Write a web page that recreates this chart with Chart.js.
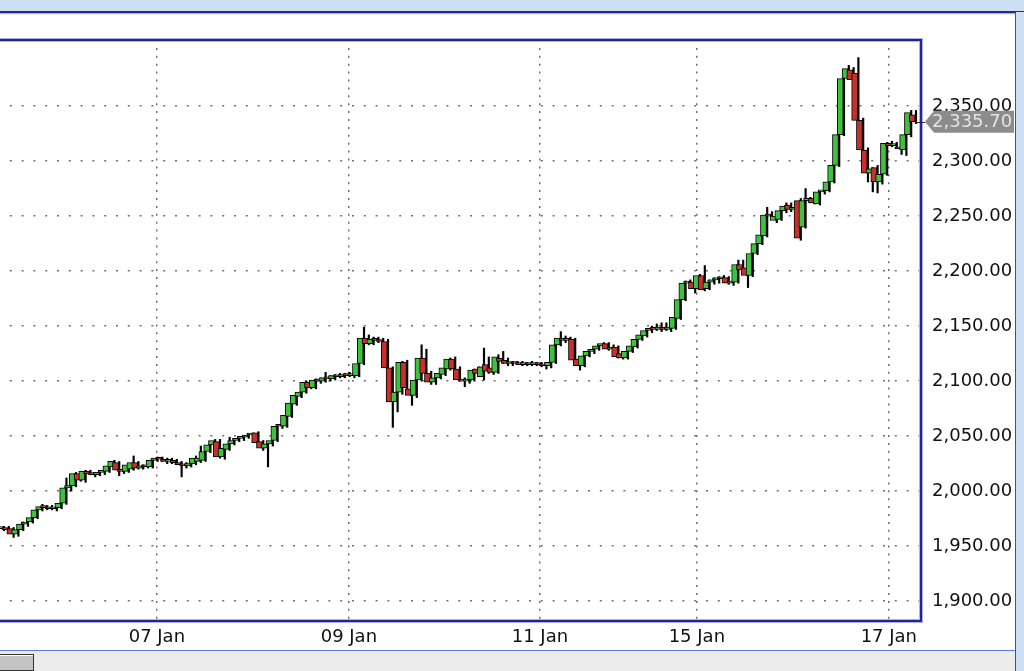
<!DOCTYPE html>
<html>
<head>
<meta charset="utf-8">
<title>Price chart</title>
<script src="https://cdn.jsdelivr.net/npm/chart.js@4.4.0/dist/chart.umd.min.js"></script>
<style>
  html, body { margin: 0; padding: 0; }
  body { width: 1024px; height: 671px; overflow: hidden; position: relative; background: #fff; }
  #topband { position: absolute; left: 0; top: 0; width: 1024px; height: 11px; background: #cddff5; border-bottom: 2px solid #27278f; box-shadow: 0 1px 1px #9fb0ea; }
  #rightstrip { position: absolute; left: 1015px; top: 12px; width: 9px; height: 659px; background: #cddff5; border-left: 1px solid #3a4db0; }
  #bottom { position: absolute; left: 0; top: 650px; width: 1015px; height: 21px; background: #ececec; border-top: 1px solid #5b7fd4; }
  #btn { position: absolute; left: -2px; top: 654px; width: 34px; height: 15px; background: #c4c4c4; border: 1px solid #333; box-shadow: inset 1px 1px 0 #fff; }
  #chart { position: absolute; left: -4px; top: 0; }
</style>
</head>
<body>
<div id="topband"></div>
<div id="rightstrip"></div>
<div id="bottom"></div>
<div id="btn"></div>
<canvas id="chart" width="1019" height="650"></canvas>
<script>
// hourly candles
const opens = [1966,1967,1966,1961,1965,1970,1972,1976,1983,1986,
  1985,1984,1985,1989,2003,2005,2016,2010,2018,2016,
  2015,2017,2018,2022,2026,2019,2018,2020,2026,2021,
  2024,2022,2028,2030,2029,2027,2028,2026,2024,2023,
  2025,2027,2028,2036,2042,2045,2031,2038,2043,2046,
  2048,2049,2051,2053,2045,2039,2043,2046,2059,2059,
  2068,2079,2086,2090,2099,2094,2101,2100,2103,2102,
  2105,2104,2106,2105,2105,2116,2139,2134,2138,2137,
  2136,2112,2081,2090,2117,2093,2087,2101,2121,2107,
  2099,2103,2106,2111,2120,2111,2101,2100,2101,2111,
  2104,2115,2112,2108,2121,2119,2116,2117,2116,2115,
  2116,2115,2116,2115,2114,2117,2133,2139,2137,2138,
  2120,2114,2123,2127,2129,2132,2134,2129,2131,2125,
  2121,2127,2131,2138,2141,2146,2148,2147,2149,2147,
  2148,2157,2174,2189,2190,2184,2196,2184,2190,2192,
  2193,2194,2189,2190,2206,2203,2196,2216,2225,2232,
  2251,2246,2247,2255,2260,2256,2264,2240,2264,2266,
  2261,2272,2273,2281,2296,2324,2375,2383,2380,2337,
  2310,2289,2294,2281,2288,2316,2314,2313,2310,2324,
  2342];
const highs = [1968,1968,1967,1966,1972,1974,1978,1985,1988,1987,
  1987,1986,1990,2012,2008,2017,2018,2019,2019,2017,
  2018,2019,2024,2028,2027,2021,2025,2032,2027,2024,
  2025,2029,2031,2031,2030,2030,2029,2027,2026,2026,
  2032,2041,2037,2043,2047,2047,2040,2049,2047,2049,
  2050,2052,2053,2054,2046,2045,2047,2060,2061,2070,
  2081,2088,2091,2100,2100,2102,2103,2108,2105,2106,
  2107,2107,2108,2107,2117,2149,2142,2140,2140,2139,
  2138,2113,2091,2118,2119,2095,2102,2133,2129,2109,
  2104,2108,2113,2121,2122,2113,2103,2103,2111,2113,
  2130,2122,2114,2124,2127,2121,2118,2118,2118,2117,
  2118,2117,2117,2116,2118,2134,2145,2141,2140,2139,
  2121,2124,2128,2130,2133,2135,2135,2133,2132,2126,
  2128,2133,2139,2143,2147,2150,2152,2153,2153,2152,
  2159,2176,2191,2192,2191,2197,2205,2192,2194,2195,
  2196,2195,2193,2210,2210,2207,2217,2226,2235,2258,
  2254,2252,2257,2262,2262,2260,2266,2275,2267,2267,
  2273,2275,2283,2298,2325,2379,2387,2385,2394,2339,
  2312,2294,2296,2290,2317,2318,2317,2320,2325,2346,
  2346];
const lows = [1964,1963,1958,1959,1964,1968,1971,1975,1982,1983,
  1983,1982,1984,1988,2000,2004,2009,2008,2015,2013,
  2014,2015,2017,2021,2014,2016,2017,2019,2020,2020,
  2021,2021,2027,2027,2025,2025,2024,2013,2021,2022,
  2024,2026,2027,2035,2041,2030,2029,2037,2042,2045,
  2046,2048,2049,2043,2037,2022,2041,2045,2057,2058,
  2067,2078,2085,2089,2093,2093,2098,2099,2100,2101,
  2103,2103,2104,2103,2104,2115,2133,2133,2135,2134,
  2110,2058,2072,2088,2092,2078,2085,2100,2106,2097,
  2097,2102,2105,2110,2110,2100,2095,2098,2100,2106,
  2101,2107,2106,2107,2116,2114,2114,2115,2114,2114,
  2114,2114,2113,2111,2112,2116,2132,2135,2133,2117,
  2110,2113,2122,2125,2128,2130,2128,2127,2121,2120,
  2120,2126,2130,2137,2140,2144,2146,2145,2146,2145,
  2147,2156,2173,2187,2180,2183,2182,2183,2188,2189,
  2190,2188,2187,2189,2199,2185,2195,2215,2224,2231,
  2248,2244,2246,2253,2254,2254,2228,2239,2262,2261,
  2260,2270,2272,2280,2295,2323,2374,2372,2336,2305,
  2281,2272,2271,2279,2287,2313,2312,2306,2305,2322,
  2334];
const closes = [1967,1965,1961,1965,1970,1972,1976,1983,1986,1985,
  1984,1985,1989,2003,2005,2016,2010,2018,2016,2015,
  2017,2018,2023,2027,2019,2018,2024,2026,2021,2023,
  2022,2028,2030,2029,2027,2028,2026,2024,2023,2025,
  2030,2030,2036,2042,2046,2031,2039,2043,2046,2048,
  2049,2051,2052,2044,2039,2043,2046,2059,2059,2069,
  2080,2087,2090,2099,2094,2101,2100,2103,2102,2105,
  2104,2106,2105,2106,2116,2139,2134,2138,2137,2136,
  2112,2081,2090,2117,2094,2087,2101,2121,2107,2099,
  2103,2107,2112,2120,2111,2101,2100,2101,2110,2107,
  2113,2109,2108,2122,2118,2116,2117,2116,2115,2116,
  2115,2116,2115,2114,2117,2133,2139,2137,2138,2119,
  2114,2123,2127,2129,2132,2134,2129,2131,2122,2121,
  2127,2132,2138,2142,2146,2148,2147,2149,2147,2149,
  2158,2174,2189,2190,2184,2196,2183,2190,2192,2193,
  2194,2189,2191,2206,2201,2196,2216,2225,2233,2251,
  2250,2250,2255,2259,2256,2258,2230,2264,2266,2262,
  2272,2273,2281,2296,2324,2375,2384,2374,2337,2310,
  2289,2293,2281,2288,2316,2314,2315,2311,2324,2344,
  2335.7];

// day separators (candle index) and their labels
const dayTicks = [32, 72, 111.8, 144.5, 184.5];
const dayLabels = ['07 Jan', '09 Jan', '11 Jan', '15 Jan', '17 Jan'];
const priceTicks = [1900, 1950, 2000, 2050, 2100, 2150, 2200, 2250, 2300, 2350];

const bodies = closes.map((c, i) => ({ x: i, y: [opens[i], c] }));
const wicks = closes.map((c, i) => ({ x: i, y: [lows[i], highs[i]] }));
const bodyColors = closes.map((c, i) => c >= opens[i] ? '#3cc23c' : '#c8302c');

function fmt(v) {
  return v.toLocaleString('en-US', { minimumFractionDigits: 2, maximumFractionDigits: 2 });
}

const framePlugin = {
  id: 'frame',
  afterDraw(chart) {
    const ctx = chart.ctx;
    const a = chart.chartArea;
    const y = chart.scales.y;
    const x = chart.scales.x;
    ctx.save();
    ctx.strokeStyle = '#aab3ea';
    ctx.lineWidth = 4;
    ctx.strokeRect(a.left, a.top, a.right - a.left, a.bottom - a.top);
    ctx.strokeStyle = '#25258f';
    ctx.lineWidth = 2;
    ctx.strokeRect(a.left, a.top, a.right - a.left, a.bottom - a.top);

    // last price marker
    const last = closes[closes.length - 1];
    const py = y.getPixelForValue(last);
    const lx = x.getPixelForValue(closes.length - 1);
    const tip = a.right + 4;
    ctx.strokeStyle = '#222';
    ctx.lineWidth = 1;
    ctx.beginPath();
    ctx.moveTo(lx, Math.round(py) + 0.5);
    ctx.lineTo(tip, Math.round(py) + 0.5);
    ctx.stroke();
    ctx.fillStyle = '#8c8c8c';
    ctx.beginPath();
    ctx.moveTo(tip, py);
    ctx.lineTo(tip + 9, py - 11);
    ctx.lineTo(chart.width - 1, py - 11);
    ctx.lineTo(chart.width - 1, py + 11);
    ctx.lineTo(tip + 9, py + 11);
    ctx.closePath();
    ctx.fill();
    ctx.fillStyle = '#e4e4e4';
    ctx.font = '18px "DejaVu Sans"';
    ctx.textBaseline = 'middle';
    ctx.textAlign = 'left';
    ctx.fillText(fmt(last), a.right + 11, py + 1);
    ctx.restore();
  }
};

Chart.defaults.font.family = '"DejaVu Sans", Verdana, sans-serif';
Chart.defaults.font.size = 18;
Chart.defaults.color = '#111';

new Chart(document.getElementById('chart'), {
  type: 'bar',
  data: {
    datasets: [
      {
        label: 'body',
        data: bodies,
        backgroundColor: bodyColors,
        borderColor: '#000',
        borderWidth: 1,
        borderSkipped: false,
        barThickness: 6,
        minBarLength: 2
      },
      {
        label: 'wick',
        data: wicks,
        backgroundColor: '#000',
        borderWidth: 0,
        barThickness: 1.5
      }
    ]
  },
  options: {
    responsive: false,
    animation: false,
    events: [],
    layout: { padding: { top: 40, left: 2, right: 0, bottom: 0 } },
    plugins: { legend: { display: false }, tooltip: { enabled: false } },
    scales: {
      x: {
        type: 'linear',
        min: -1.1,
        max: 191.2,
        offset: false,
        grid: { offset: false, color: '#6f6f6f', lineWidth: 1.5, drawTicks: false },
        border: { display: false, dash: [2, 5.9] },
        afterBuildTicks: s => { s.ticks = dayTicks.map(v => ({ value: v })); },
        afterFit: s => { s.height = 29; },
        ticks: {
          autoSkip: false,
          maxRotation: 0,
          padding: 6,
          callback: (v, i) => dayLabels[i]
        }
      },
      y: {
        position: 'right',
        min: 1882,
        max: 2410,
        grid: { color: '#6f6f6f', lineWidth: 1.5, drawTicks: false },
        border: { display: false, dash: [2, 9.8] },
        afterBuildTicks: s => { s.ticks = priceTicks.map(v => ({ value: v })); },
        afterFit: s => { s.width = 94; },
        ticks: {
          padding: 11,
          callback: v => fmt(v)
        }
      }
    }
  },
  plugins: [framePlugin]
});
</script>
</body>
</html>
